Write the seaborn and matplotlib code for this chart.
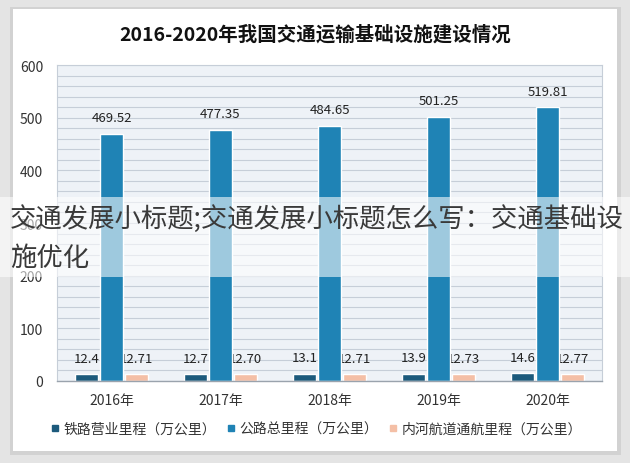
import matplotlib
matplotlib.use("Agg")
import matplotlib.pyplot as plt
from matplotlib.patches import Rectangle
from matplotlib.lines import Line2D
from matplotlib.ticker import MultipleLocator
import seaborn as sns
import pandas as pd

years = ["2016年", "2017年", "2018年", "2019年", "2020年"]
series_names = ["铁路营业里程（万公里）", "公路总里程（万公里）", "内河航道通航里程（万公里）"]
railway = [12.4, 12.7, 13.1, 13.9, 14.6]
highway = [469.52, 477.35, 484.65, 501.25, 519.81]
waterway = [12.71, 12.70, 12.71, 12.73, 12.77]
label_formats = ["{:.1f}", "{:.2f}", "{:.2f}"]
colors = ["#1c5a7c", "#1f83b5", "#f4bfa6"]
title = "2016-2020年我国交通运输基础设施建设情况"
overlay_lines = ["交通发展小标题;交通发展小标题怎么写：交通基础设", "施优化"]

sns.set_theme(style="white")
plt.rcParams["font.family"] = ["Noto Sans CJK SC", "DejaVu Sans"]

df = pd.DataFrame({
    "year": years * 3,
    "series": [series_names[0]] * 5 + [series_names[1]] * 5 + [series_names[2]] * 5,
    "value": railway + highway + waterway,
})

fig = plt.figure(figsize=(6.3, 4.64), dpi=100)
fig.patch.set_facecolor("#e4e4e4")
W, H = 630, 464
# card shadow and card
fig.patches.append(Rectangle((10 / W, 1 - 456 / H), 611 / W, 448 / H, transform=fig.transFigure,
                             facecolor="#d2d2d2", edgecolor="none", zorder=-3))
fig.patches.append(Rectangle((13 / W, 1 - 452 / H), 604 / W, 442 / H, transform=fig.transFigure,
                             facecolor="white", edgecolor="none", zorder=-2))

ax = fig.add_axes([57 / W, 1 - 382 / H, 545 / W, 316 / H])
ax.set_facecolor("#eef2f7")
sns.barplot(data=df, x="year", y="value", hue="series", palette=colors,
            width=0.69, gap=0.08, ax=ax, legend=False, zorder=2, saturation=1)

ax.set_ylim(0, 600)
ax.yaxis.set_major_locator(MultipleLocator(100))
ax.yaxis.set_minor_locator(MultipleLocator(20))
ax.grid(axis="y", which="both", color="#c6ced8", linewidth=0.8)
ax.set_axisbelow(True)
ax.set_xlabel("")
ax.set_ylabel("")
for side in ["top", "right", "left"]:
    ax.spines[side].set_color("#c6ced8")
    ax.spines[side].set_linewidth(0.8)
ax.spines["bottom"].set_color("#9aa3ad")
ax.spines["bottom"].set_linewidth(1.0)
ax.tick_params(axis="y", length=0, labelsize=10, labelcolor="#333333", pad=10)
ax.tick_params(axis="x", length=0, labelsize=10, labelcolor="#333333", pad=9)

for cont, fmt in zip(ax.containers, label_formats):
    vals = [b.get_height() for b in cont]
    texts = ax.bar_label(cont, labels=[fmt.format(v) for v in vals], padding=7,
                         fontsize=9.5, color="#222222")
    for t in texts:
        t.set_zorder(1.5)

fig.text(315 / W, 1 - 35 / H, title, ha="center", va="center", fontsize=14,
         fontweight="bold", color="#111111")

handles = [Line2D([0], [0], marker="s", linestyle="none", markersize=5,
                  markerfacecolor=c, markeredgecolor=c) for c in colors]
fig.legend(handles, series_names, loc="center", bbox_to_anchor=(0.5, 1 - 430 / H),
           ncol=3, frameon=False, fontsize=10, handletextpad=0.1, columnspacing=0.6,
           handlelength=1.0, labelcolor="#333333")

# translucent overlay band with caption text
fig.patches.append(Rectangle((0, 1 - 278 / H), 1, 80 / H, transform=fig.transFigure,
                             facecolor="white", edgecolor="none", alpha=0.57, zorder=10))
fig.text(10 / W, 1 - 219 / H, overlay_lines[0], ha="left", va="center", fontsize=19,
         color="#3a3a3a", zorder=11)
fig.text(10 / W, 1 - 258 / H, overlay_lines[1], ha="left", va="center", fontsize=19,
         color="#3a3a3a", zorder=11)

fig.savefig("out.png", dpi=100, facecolor=fig.get_facecolor())
